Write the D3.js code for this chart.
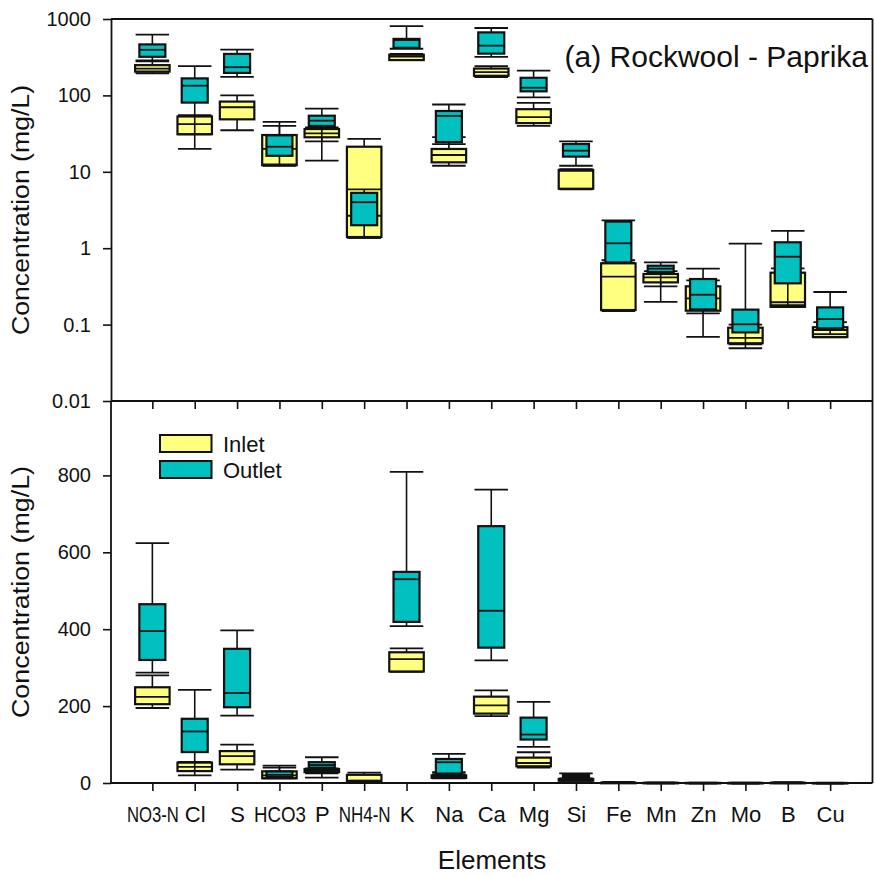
<!DOCTYPE html>
<html>
<head>
<meta charset="utf-8">
<script src="https://cdn.jsdelivr.net/npm/d3@7"></script>
<style>
  html, body { margin: 0; padding: 0; background: #fff; }
  svg { display: block; font-family: "Liberation Sans", Arial, sans-serif; }
</style>
</head>
<body>
<svg id="chart" width="875" height="877"></svg>
<script>
// Elements on the x axis
const elements = ["NO3-N", "Cl", "S", "HCO3", "P", "NH4-N", "K", "Na", "Ca", "Mg",
                  "Si", "Fe", "Mn", "Zn", "Mo", "B", "Cu"];

// Box statistics per element: [lower whisker, Q1, median, Q3, upper whisker] in mg/L
const inletStats = [
  [195, 205, 224, 249, 280],
  [20, 31, 42, 53, 55],
  [35, 48.6, 70, 83, 100],
  [12, 12.2, 20, 30.3, 40],
  [14, 28.3, 31.9, 36.3, 38],
  [1.37, 1.4, 2.66, 21.3, 27],
  [289, 290, 322, 340, 350],
  [12, 13.3, 16.6, 19.9, 28.5],
  [174, 180.5, 202, 224.6, 241],
  [40, 43.4, 52, 66, 80],
  [5.9, 6, 10.3, 10.6, 10.8],
  [0.15, 0.155, 0.424, 0.634, 0.70],
  [0.198, 0.357, 0.416, 0.46, 0.50],
  [0.14, 0.152, 0.22, 0.317, 0.38],
  [0.049, 0.057, 0.067, 0.091, 0.10],
  [0.17, 0.171, 0.196, 0.478, 0.546],
  [0.068, 0.0688, 0.085, 0.0924, 0.108]
];
const outletStats = [
  [287, 320, 395, 465, 624],
  [31, 80.5, 134, 167, 242],
  [175, 197, 234, 349, 397],
  [12.5, 16.2, 21.3, 30, 45],
  [25, 39.8, 46.7, 54.2, 67],
  [1.37, 2.0, 4.0, 5.3, 5.9],
  [408, 419, 530, 549, 809],
  [23, 24.5, 54, 62.5, 76],
  [319, 352, 448, 668, 763],
  [94, 113, 126, 170, 211],
  [12, 15.8, 18.9, 23.1, 25],
  [0.646, 0.65, 1.16, 2.23, 2.32],
  [0.317, 0.488, 0.54, 0.59, 0.654],
  [0.069, 0.158, 0.246, 0.395, 0.539],
  [0.055, 0.079, 0.101, 0.157, 1.145],
  [0.18, 0.347, 0.774, 1.195, 1.69],
  [0.075, 0.0894, 0.118, 0.168, 0.267]
];

// Axis ticks
const logTicks = [0.01, 0.1, 1, 10, 100, 1000];
const logTickLabels = ["0.01", "0.1", "1", "10", "100", "1000"];
const linTicks = [0, 200, 400, 600, 800];

const seriesNames = ["Inlet", "Outlet"];
const seriesColors = ["#FFFF80", "#00C0C0"];

const svg = d3.select("#chart");
const ink = "#111";
const font = "\"Liberation Sans\", Arial, sans-serif";

// Frame geometry
const left = 111, right = 872.5;
const topY0 = 19, topY1 = 401;      // log panel
const botY0 = 401, botY1 = 783;     // linear panel

const x = d3.scaleLinear().domain([0, 18]).range([110, 872.5]);
const yLog = d3.scaleLog().domain([0.01, 1000]).range([topY1, topY0]);
const yLin = d3.scaleLinear().domain([0, 1000]).range([botY1, 398.5]);

// Draws the inlet boxes first, then the outlet boxes over them
function drawBoxes(g, y) {
  const sets = [
    { stats: inletStats, color: seriesColors[0], boxW: 34.5 },
    { stats: outletStats, color: seriesColors[1], boxW: 26 }
  ];
  const capW = 33.5;
  sets.forEach(set => {
    const sg = g.append("g");
    set.stats.forEach((s, i) => {
      const cx = x(i + 1);
      const [lo, q1, med, q3, hi] = s;
      const b = sg.append("g");
      // whiskers
      b.append("line").attr("x1", cx).attr("x2", cx)
        .attr("y1", y(lo)).attr("y2", y(q1))
        .attr("stroke", ink).attr("stroke-width", 1.6);
      b.append("line").attr("x1", cx).attr("x2", cx)
        .attr("y1", y(q3)).attr("y2", y(hi))
        .attr("stroke", ink).attr("stroke-width", 1.6);
      // caps
      [lo, hi].forEach(v => {
        b.append("line").attr("x1", cx - capW / 2).attr("x2", cx + capW / 2)
          .attr("y1", y(v)).attr("y2", y(v))
          .attr("stroke", ink).attr("stroke-width", 1.8);
      });
      // box
      b.append("rect")
        .attr("x", cx - set.boxW / 2).attr("width", set.boxW)
        .attr("y", y(q3)).attr("height", Math.max(0.5, y(q1) - y(q3)))
        .attr("fill", set.color).attr("stroke", ink).attr("stroke-width", 2.2);
      // median
      b.append("line").attr("x1", cx - set.boxW / 2).attr("x2", cx + set.boxW / 2)
        .attr("y1", y(med)).attr("y2", y(med))
        .attr("stroke", ink).attr("stroke-width", 1.8);
    });
  });
}

// ---- Top panel (log scale) ----
const gTop = svg.append("g");
drawBoxes(gTop, yLog);

// ---- Bottom panel (linear scale) ----
const gBot = svg.append("g");
drawBoxes(gBot, yLin);

// Frame lines
svg.append("line").attr("x1", left).attr("x2", right).attr("y1", topY0).attr("y2", topY0)
  .attr("stroke", ink).attr("stroke-width", 1.8);
svg.append("line").attr("x1", right).attr("x2", right).attr("y1", topY0).attr("y2", botY1)
  .attr("stroke", ink).attr("stroke-width", 1.8);

// Y axes
function styleAxis(g, fs) {
  g.select(".domain").attr("stroke", ink).attr("stroke-width", 1.8);
  g.selectAll(".tick line").attr("stroke", ink).attr("stroke-width", 1.6);
  g.selectAll(".tick text").attr("fill", ink).attr("font-size", fs).attr("font-family", font);
}

const axTop = svg.append("g").attr("transform", `translate(${left},0)`)
  .call(d3.axisLeft(yLog).tickValues(logTicks)
    .tickFormat((d, i) => logTickLabels[i]).tickSize(8).tickPadding(12).tickSizeOuter(0));
styleAxis(axTop, 20);

const axBot = svg.append("g").attr("transform", `translate(${left},0)`)
  .call(d3.axisLeft(yLin).tickValues(linTicks).tickSize(8).tickPadding(12).tickSizeOuter(0));
axBot.select(".domain").remove();
styleAxis(axBot, 20);
svg.append("line").attr("x1", left).attr("x2", left).attr("y1", botY0).attr("y2", botY1)
  .attr("stroke", ink).attr("stroke-width", 1.8);

// X axes: tick marks under both panels, labels under the lower one
const catTicks = elements.map((d, i) => i + 1);
const axMid = svg.append("g").attr("transform", `translate(0,${topY1})`)
  .call(d3.axisBottom(x).tickValues(catTicks).tickFormat("").tickSize(8).tickSizeOuter(0));
axMid.select(".domain").attr("d", `M${left},0H${right}`);
styleAxis(axMid, 22);

const axX = svg.append("g").attr("transform", `translate(0,${botY1})`)
  .call(d3.axisBottom(x).tickValues(catTicks).tickFormat((d, i) => elements[i])
    .tickSize(8).tickPadding(15).tickSizeOuter(0));
axX.select(".domain").attr("d", `M${left},0H${right}`);
styleAxis(axX, 22);
// Long category names are squeezed horizontally so neighbouring labels stay apart
const maxLabelW = 52;
axX.selectAll(".tick text").each(function () {
  const w = this.getComputedTextLength();
  if (w > maxLabelW) {
    d3.select(this).attr("transform", `scale(${maxLabelW / w},1)`);
  }
});

// Axis titles
svg.append("text")
  .attr("transform", `translate(29,${(topY0 + topY1) / 2}) rotate(-90)`)
  .attr("text-anchor", "middle").attr("font-size", 23).attr("font-family", font).attr("fill", ink)
  .attr("textLength", 250).attr("lengthAdjust", "spacingAndGlyphs")
  .text("Concentration (mg/L)");
svg.append("text")
  .attr("transform", `translate(29,${(botY0 + botY1) / 2}) rotate(-90)`)
  .attr("text-anchor", "middle").attr("font-size", 23).attr("font-family", font).attr("fill", ink)
  .attr("textLength", 252).attr("lengthAdjust", "spacingAndGlyphs")
  .text("Concentration (mg/L)");
svg.append("text")
  .attr("x", 492).attr("y", 869)
  .attr("text-anchor", "middle").attr("font-size", 26).attr("font-family", font).attr("fill", ink)
  .text("Elements");

// Panel label
svg.append("text")
  .attr("x", 868).attr("y", 67)
  .attr("text-anchor", "end").attr("font-size", 30).attr("font-family", font).attr("fill", ink)
  .text("(a) Rockwool - Paprika");

// Legend
const legend = svg.append("g");
seriesNames.forEach((name, i) => {
  const ly = 435 + i * 26;
  legend.append("rect").attr("x", 160).attr("y", ly).attr("width", 51.5).attr("height", 17)
    .attr("fill", seriesColors[i]).attr("stroke", ink).attr("stroke-width", 2);
  legend.append("text").attr("x", 223).attr("y", ly + 16.5)
    .attr("font-size", 22).attr("font-family", font).attr("fill", ink).text(name);
});
</script>
</body>
</html>
